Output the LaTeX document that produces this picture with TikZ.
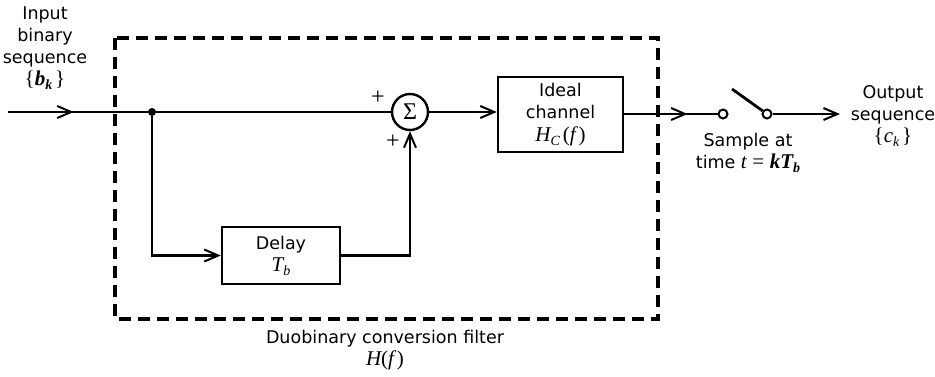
\documentclass[tikz,border=0pt]{standalone}
\usepackage{fontspec}
\setmainfont{DejaVu Sans}
\newfontfamily\mathfont{Liberation Serif}
\usetikzlibrary{arrows.meta, positioning, calc, decorations.markings}

\newcommand{\bigtext}{\fontsize{17.5}{22}\selectfont}
% italic symbols and subscripts
\newcommand{\mi}[1]{{\mathfont\fontsize{21}{22}\selectfont\itshape #1}}
\newcommand{\mb}[1]{{\mathfont\fontsize{21}{22}\selectfont\bfseries\itshape #1}}
\newcommand{\mr}[1]{{\mathfont\fontsize{21}{22}\selectfont #1}}
\newcommand{\sbs}[1]{\raisebox{-0.4ex}{\fontsize{14}{14}\selectfont #1}}

\tikzset{
  sig/.style={line width=2.8pt},
  tip/.style={-{Straight Barb[length=14pt, width=12pt, line width=2pt]}},
  midarrow/.style={postaction={decorate}, decoration={markings,
      mark=at position #1 with {\arrow{Straight Barb[length=14pt, width=12pt, line width=2pt]}}}},
  block/.style={draw, line width=2.4pt, align=center, inner sep=0pt, font=\bigtext},
  lbl/.style={align=center, font=\bigtext},
  port/.style={circle, draw, line width=2pt, minimum size=9pt, inner sep=0pt},
  sign/.style={font=\mathfont\fontsize{24}{24}\selectfont, inner sep=0pt},
}

\begin{document}
\begin{tikzpicture}[x=1pt, y=-1pt]
  \useasboundingbox (0,0) rectangle (935,376);

  % duobinary filter outline
  \draw[line width=3.2pt, dash pattern=on 12pt off 7pt] (115,38) rectangle (658,319);

  \coordinate (in) at (8,112);
  \node[circle, fill, inner sep=0pt, minimum size=8pt] (split) at (152,112) {};
  \node[circle, draw, line width=2.4pt, minimum size=36pt, inner sep=0pt, sign]
       (sum) at (410,112) {Σ};
  \node[block, minimum width=125pt, minimum height=75pt] (chan) at (560.5,114.5)
       {Ideal\\channel\\[1pt]\mi{H\sbs{C}}\,\mr{(}\mi{f}\,\mr{)}};
  \node[block, minimum width=118pt, minimum height=57pt] (delay) at (281,255.5)
       {Delay\\\mi{T\sbs{b}}};
  \node[port] (sw1) at (723,114) {};
  \node[port] (sw2) at (767,114) {};
  \coordinate (lever) at (732,89);
  \coordinate (out) at (840,114);

  % signal paths
  \draw[sig, midarrow=0.47] (in) -- (split);
  \draw[sig] (split) -- (sum);
  \draw[sig, tip] (split) |- (delay);
  \draw[sig, tip] (delay) -| (sum);
  \draw[sig, tip] (sum) -- (sum -| chan.west);
  \draw[sig, midarrow=0.68] (chan.east |- sw1) -- (sw1);
  \draw[sig] (sw2) -- (lever);
  \draw[sig, tip] (sw2) -- (out);

  % signs at the adder
  \node[sign] (plusA) at (378,98) {+};
  \node[sign] (plusB) at (393,142) {+};

  % labels
  \node[lbl] (inlbl) at (45,48) {Input\\binary\\sequence\\\mr{\{}\mb{b\sbs{k}}\,\mr{\}}};
  \node[lbl] (outlbl) at (893,116) {Output\\sequence\\\mr{\{}\mi{c\sbs{k}}\,\mr{\}}};
  \node[lbl] (smplbl) at (748,153) {Sample at\\time \mi{t} \mr{=} \mb{kT\sbs{b}}};
  \node[lbl] (filtlbl) at (385,350) {Duobinary conversion filter\\\mi{H}\mr{(}\mi{f}\,\mr{)}};
\end{tikzpicture}
\end{document}
